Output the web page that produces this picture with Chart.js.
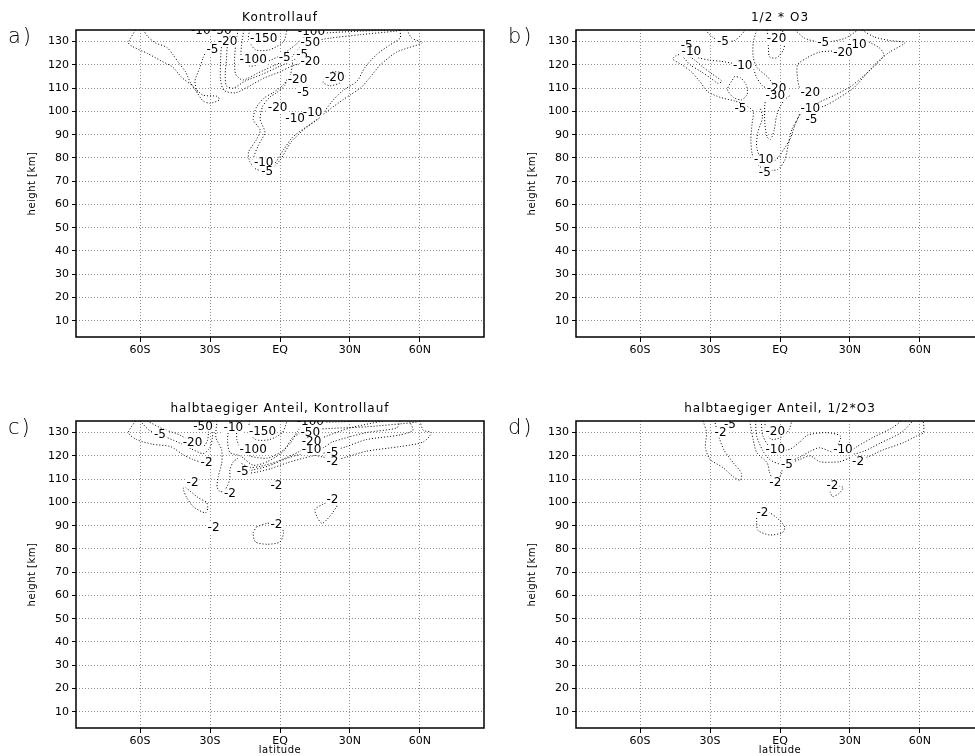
<!DOCTYPE html>
<html>
<head>
<meta charset="utf-8">
<script src="https://cdn.jsdelivr.net/npm/chart.js@4.4.1/dist/chart.umd.min.js"></script>
<style>
  html, body { margin: 0; padding: 0; background: #fff; overflow: hidden; width: 975px; height: 756px; }
  canvas { position: absolute; }
</style>
</head>
<body>
<canvas id="panel-a" width="490" height="378" style="left:0;top:0"></canvas>
<canvas id="panel-b" width="490" height="378" style="left:500px;top:0"></canvas>
<canvas id="panel-c" width="490" height="378" style="left:0;top:391px"></canvas>
<canvas id="panel-d" width="490" height="378" style="left:500px;top:391px"></canvas>
<script>
// ===== Axes =====
const latTicks = [-60, -30, 0, 30, 60];
const latLabels = ['60S', '30S', 'EQ', '30N', '60N'];
const heightTicks = [10, 20, 30, 40, 50, 60, 70, 80, 90, 100, 110, 120, 130];

// ===== a) Kontrollauf : contour lines as [lat, height] =====
const ctrlLines = [
  [[-62,135],[-65,129.5],[-63.5,128],[-57,125],[-51.5,122],[-46,119],[-42,114.5],[-37.5,111],[-33,107],[-27,106.5],[-26,105],[-30,103.5],[-33,104.5],[-35.5,108],[-38.5,112.5],[-40.5,117],[-43.5,121],[-46,124.5],[-48.5,127.5],[-53.5,129.5],[-57,132.5],[-58.5,135]],
  [[-31,127],[-33,123],[-34.5,118.5],[-36.5,113],[-35.5,108]],
  [[-23,135],[-25,128.5],[-25.5,122],[-25.5,113.5],[-24,109],[-19,108],[-13,111],[-6.5,114.5],[0,117],[5,119.5],[10,121],[15,123]],
  [[-20.5,135],[-22.5,128.5],[-23,122],[-23.5,116],[-23,111],[-20,110],[-15,113],[-7.5,116],[-1,119],[4.5,121.5],[8.5,123.5],[12,126.5]],
  [[-18,135],[-19,128.5],[-19.5,122],[-19,116],[-16,113.5],[-9.5,116.5],[-2,120],[4.5,123],[8.5,127.5],[13.5,130],[21.5,131.5],[34.5,133],[49.5,134.5],[52.5,135]],
  [[-15.5,135],[-16.5,128.5],[-16.5,123],[-13,119.5],[-6.5,121],[1,124.5],[6.5,128.5],[10.5,132],[17,133.5],[34.5,134.5],[47,135]],
  [[-13,135],[-13.5,131],[-10.5,126.5],[-4.5,126.5],[1.5,130],[3,135]],
  [[54.5,135],[56.5,131.5],[61,129.5],[55.5,127.5],[50,125.5],[43,120],[38.5,114.5],[34.5,110],[30,107],[27,105],[21.5,101],[16,96.5],[10,92],[4.5,86.5],[0,79],[-4.5,75],[-10,75],[-13,78.5],[-13.5,82.5],[-10,88],[-8.5,92],[-11.5,96.5],[-10,102],[-6.5,106],[-3,108],[1.5,111.5],[4.5,116],[5.5,121.5]],
  [[51.5,135],[51.5,131.5],[47,128.5],[41.5,124.5],[36.5,119],[33,113],[27,109],[22.5,104.5],[17,97.5],[11.5,93.5],[5.5,89],[1.5,83.5],[-3,77],[-9.5,77],[-11.5,79],[-9.5,85],[-6.5,91],[-8.5,96.5],[-7.5,102],[-4.5,106],[-1.5,108],[2,111],[3,114]],
  [[19.5,114.5],[22.5,117],[28,116],[26,112.5],[21.5,111],[18.5,112.5],[19.5,114.5]]
];
const ctrlLabels = [
  [-34,134.5,'-10'],[-25,134.5,'-50'],[-29,126.5,'-5'],[-22.5,130,'-20'],[-7,131,'-150'],[-11.5,122,'-100'],
  [13.5,134,'-100'],[13,129.5,'-50'],[2,123,'-5'],[9.5,124.5,'-5'],[13,121.5,'-20'],[7.5,113.5,'-20'],
  [23.5,114.5,'-20'],[10,108,'-5'],[-1,101.5,'-20'],[14,99.5,'-10'],[6.5,97,'-10'],[-7,78,'-10'],[-5.5,74,'-5']
];

// ===== b) 1/2 * O3 =====
const o3Lines = [
  [[-32,135],[-29,132],[-25,130],[-19.5,130.5],[-16.5,133],[-15,135]],
  [[-34.5,126],[-39.5,125.5],[-44.5,124],[-46,122.5],[-42,120],[-38,117],[-34.5,113],[-31,108.5],[-25.5,106],[-19.5,104.5],[-14.5,102.5],[-11.5,100],[-12,94.5],[-12.5,88],[-12,82],[-10.5,78],[-6.5,75],[-1,75],[2,79],[3.5,85.5],[5,92],[7.5,96.5],[9.5,101],[15,101],[20.5,103],[25.5,106],[31.5,110],[36.5,115.5],[41.5,121],[47,125.5],[53.5,129.5],[47,130.5],[40.5,132],[35,135]],
  [[-42,124],[-38.5,120],[-34.5,117.5],[-30,114.5],[-26.5,112],[-25,113],[-29,116],[-33,119],[-36.5,122],[-40.5,124.5],[-42,124]],
  [[-35,123],[-30,122],[-25,121.5],[-19.5,120.5],[-12,119],[-10,114.5],[-7.5,111],[-4.5,109.5]],
  [[-19.5,115],[-22.5,109.5],[-20,106],[-16.5,105],[-14,107.5],[-14.5,111.5],[-17,114.5],[-19.5,115]],
  [[-10,135],[-11.5,129.5],[-11.5,123.5],[-10,119],[-5.5,115],[-2,110.5]],
  [[-5.5,135],[-5,128],[-4.5,123.5],[-1.5,123],[1.5,126.5],[2,130],[1,135]],
  [[37,130.5],[43,127],[44.5,124],[40,119],[35,114.5],[30,110.5],[23.5,107],[17,104],[13,101],[8.5,98.5],[6.5,94.5],[4.5,88.5],[1.5,83.5],[-2,79],[-7.5,79],[-10,84.5],[-9.5,91],[-7.5,97.5],[-8.5,101.5]],
  [[30,126.5],[23.5,126],[17,125.5],[11.5,123],[7.5,120],[7.5,114.5],[8.5,110],[12,108]],
  [[-5,109],[-6.5,103],[-6.5,95],[-5.5,89],[-4,88],[-2.5,92],[-1.5,98],[0,102],[2,105],[4.5,107]],
  [[6.5,135],[10.5,131.5],[16,130],[21.5,130],[28,131.5],[33.5,135]]
];
const o3Labels = [
  [-40,128,'-5'],[-38,125.5,'-10'],[-24.5,130,'-5'],[-1.5,131,'-20'],[-16,119.5,'-10'],[-17,101,'-5'],
  [-1.5,109.5,'-20'],[-2,106.8,'-30'],[13,108,'-20'],[13,101,'-10'],[13.5,96.5,'-5'],[-7,79,'-10'],
  [-6.5,73.5,'-5'],[18.5,129.5,'-5'],[33,128.5,'-10'],[27,125,'-20']
];

// ===== c) halbtaegiger Anteil, Kontrollauf =====
const halbCtrlLines = [
  [[-62,135],[-65,130],[-61.5,127],[-54.5,125],[-47,124],[-41.5,120.5],[-37.5,118.5],[-33,117]],
  [[-60,135],[-56,131],[-50,128.5],[-44,126],[-38,123],[-33,121],[-30,123.5],[-29,128],[-28.5,135]],
  [[-57,135],[-50,131.5],[-43,129],[-38,126],[-33,124],[-31,127],[-30.5,135]],
  [[-27,135],[-27.5,128],[-25,122.5],[-25,117],[-26.5,111],[-27,106.5],[-25.5,104.5],[-23.5,105.5],[-21.5,110],[-21.5,114],[-20,117.5],[-18,119]],
  [[-13,135],[-13.5,131],[-10.5,127],[-4.5,127],[1,130],[3,135]],
  [[-18.5,135],[-18.5,127],[-17,123.5],[-13,120],[-5.5,119],[0,121.5],[4.5,125.5],[7.5,130.5],[11,134],[20,134.5],[40,135]],
  [[-21.5,135],[-22.5,127],[-21.5,121.5],[-17,120],[-11.5,116],[-5.5,117.5],[1.5,122],[5.5,128],[10,130],[17,131.5],[37,132.5],[58.5,134.5],[59,135]],
  [[60,135],[61.5,131],[65,130],[61.5,126],[51.5,124],[37,122],[28.5,119.5],[24.5,118.5],[18.5,119.5],[14,120.5]],
  [[55.5,135],[57,131],[51.5,129],[37,127],[28.5,124],[20,121.5],[10,119],[3,117],[-4,114.5],[-10,113],[-13.5,112.5]],
  [[51.5,135],[50,132],[37,130],[22.5,126],[18.5,123.5],[12,121.5],[4.5,119.5],[-5.5,115.5],[-11.5,114],[-14,113.5]],
  [[44,135],[30,132],[20,128.5],[14,126],[8.5,122],[-1.5,117.5],[-8.5,115.5],[-13,115],[-17,117]],
  [[-40.5,106.5],[-35,102],[-31.5,100],[-31,97.5],[-32,95.5],[-37,98],[-40,102],[-41.5,106],[-40.5,106.5]],
  [[-10,89.5],[-5.5,91],[0,90.5],[1.5,87],[0,83],[-5.5,82],[-10.5,83],[-11.5,87],[-10,89.5]],
  [[21.5,100.5],[24.5,99],[22.5,95.5],[20,92.5],[18,91],[16,93.5],[15,97],[18,99],[21.5,100.5]]
];
const halbCtrlLabels = [
  [-51.5,129,'-5'],[-37.5,125.5,'-20'],[-33,132.5,'-50'],[-20,132,'-10'],[-7.5,130.5,'-150'],[-11.5,122.5,'-100'],
  [-31.5,117,'-2'],[-16,113,'-5'],[-21.5,103.5,'-2'],[-37.5,108.5,'-2'],[-28.5,89,'-2'],[-1.5,107,'-2'],
  [-1.5,90.5,'-2'],[22.5,101,'-2'],[13,134.5,'-100'],[13,130,'-50'],[13.5,126,'-20'],[13.5,122.5,'-10'],
  [22.5,121.5,'-5'],[22.5,117.5,'-2']
];

// ===== d) halbtaegiger Anteil, 1/2*O3 =====
const halbO3Lines = [
  [[-33,135],[-31.5,130],[-32,123.5],[-30,118.5],[-24.5,115],[-20,111],[-17,109.5],[-16.5,112.5],[-20,117],[-24,122.5],[-26.5,129],[-28,135]],
  [[-13,135],[-11.5,127],[-10,121.5],[-5.5,117],[-4.5,113],[-3,110],[0,111],[1.5,115.5],[4.5,117],[8.5,118.5],[13,120],[17,117.5],[25.5,117.5],[30,119],[33,118.5],[37.5,119.5],[44,122.5],[52.5,125.5],[58.5,128.5],[61.5,130],[61.5,135]],
  [[-10.5,135],[-10,128.5],[-7.5,122.5],[-4.5,118.5],[0,116.5],[4,117.5],[8.5,119.5],[13,122],[17,123.5],[24,121],[30,120.5],[36,122],[43,125.5],[52,130],[57,135]],
  [[-8,135],[-7.5,129],[-5,124.5],[-1,122],[4.5,123],[8.5,126],[12,129],[20,130],[26,128.5],[25,124],[29,121.5],[33,124],[40,128],[48,132],[52,135]],
  [[-6.5,135],[-6,130],[-3.5,127],[1.5,128.5],[4,131.5],[5,135]],
  [[-10,95.5],[-5.5,96],[-1.5,93.5],[2,89.5],[1,87],[-4.5,86],[-9.5,88],[-10,91.5],[-10,95.5]],
  [[20,107.5],[27,106.5],[25.5,104],[22.5,102.5],[21.5,104.5],[20,107.5]]
];
const halbO3Labels = [
  [-21.5,133.5,'-5'],[-25.5,130,'-2'],[-2,130.5,'-20'],[-2,122.5,'-10'],[3,116,'-5'],[-2,108.5,'-2'],
  [27,122.5,'-10'],[33.5,117.5,'-2'],[22.5,107,'-2'],[-7.5,95.5,'-2']
];

// ===== Drawing =====
Chart.defaults.font.family = 'DejaVu Sans';
Chart.defaults.color = '#000';

const panelDeco = {
  id: 'panelDeco',
  afterDatasetsDraw(chart, args, opts) {
    const { ctx, chartArea: a, scales: { x, y } } = chart;
    ctx.save();
    ctx.beginPath(); ctx.rect(a.left, a.top, a.right - a.left, a.bottom - a.top); ctx.clip();
    ctx.font = '12px DejaVu Sans'; ctx.textAlign = 'center'; ctx.textBaseline = 'middle';
    opts.labels.forEach(([lat, h, t]) => {
      const px = x.getPixelForValue(lat), py = y.getPixelForValue(h);
      const w = ctx.measureText(t).width;
      ctx.fillStyle = '#fff'; ctx.fillRect(px - w / 2 - 1, py - 5, w + 2, 10);
      ctx.fillStyle = '#000'; ctx.fillText(t, px, py);
    });
    ctx.restore();
  },
  afterDraw(chart, args, opts) {
    const { ctx, chartArea: a } = chart;
    ctx.save();
    // frame
    ctx.strokeStyle = '#000'; ctx.lineWidth = 1.5;
    ctx.strokeRect(a.left, a.top, a.right - a.left, a.bottom - a.top);
    ctx.fillStyle = '#000';
    // title
    ctx.font = '12px DejaVu Sans'; ctx.letterSpacing = '1px';
    ctx.textAlign = 'center'; ctx.textBaseline = 'middle';
    ctx.fillText(opts.title, (a.left + a.right) / 2, a.top - 12);
    // panel letter
    ctx.font = '200 21px DejaVu Sans'; ctx.letterSpacing = '2px'; ctx.textAlign = 'left';
    ctx.fillText(opts.letter, 8, a.top + 8);
    // axis titles
    ctx.font = '10px DejaVu Sans'; ctx.letterSpacing = '0.5px'; ctx.textAlign = 'center';
    ctx.save();
    ctx.translate(32, (a.top + a.bottom) / 2); ctx.rotate(-Math.PI / 2);
    ctx.fillText('height [km]', 0, 0);
    ctx.restore();
    if (opts.xTitle) ctx.fillText('latitude', (a.left + a.right) / 2, a.bottom + 22);
    ctx.restore();
  }
};

function makePanel(id, letter, title, lines, labels, xTitle) {
  return new Chart(document.getElementById(id), {
    type: 'scatter',
    data: {
      datasets: lines.map(pts => ({
        data: pts.map(p => ({ x: p[0], y: p[1] })),
        showLine: true, borderColor: '#000', borderWidth: 1, borderDash: [1, 2],
        pointRadius: 0, tension: 0.25, fill: false
      }))
    },
    options: {
      responsive: false, animation: false, devicePixelRatio: 1,
      layout: { padding: { top: 30, right: 6, bottom: 11, left: 0 } },
      plugins: { legend: { display: false }, tooltip: { enabled: false }, panelDeco: { letter, title, labels, xTitle } },
      scales: {
        x: {
          type: 'linear', min: -87.5, max: 87.5,
          afterBuildTicks: s => { s.ticks = latTicks.map(v => ({ value: v })); },
          afterFit: s => { s.height = 30; },
          ticks: { callback: v => latLabels[latTicks.indexOf(v)], font: { size: 11 }, padding: 2, maxRotation: 0, autoSkip: false },
          grid: { color: '#8c8c8c', lineWidth: 1, tickColor: '#000', tickLength: 5 },
          border: { display: false, dash: [1, 2] }
        },
        y: {
          type: 'linear', min: 3, max: 135,
          afterBuildTicks: s => { s.ticks = heightTicks.map(v => ({ value: v })); },
          afterFit: s => { s.width = 76; },
          ticks: { font: { size: 11 }, padding: 3, autoSkip: false },
          grid: { color: '#8c8c8c', lineWidth: 1, tickColor: '#000', tickLength: 4 },
          border: { display: false, dash: [1, 2] }
        }
      }
    },
    plugins: [panelDeco]
  });
}

makePanel('panel-a', 'a)', 'Kontrollauf', ctrlLines, ctrlLabels, false);
makePanel('panel-b', 'b)', '1/2 * O3', o3Lines, o3Labels, false);
makePanel('panel-c', 'c)', 'halbtaegiger Anteil, Kontrollauf', halbCtrlLines, halbCtrlLabels, true);
makePanel('panel-d', 'd)', 'halbtaegiger Anteil, 1/2*O3', halbO3Lines, halbO3Labels, true);
</script>
</body>
</html>
